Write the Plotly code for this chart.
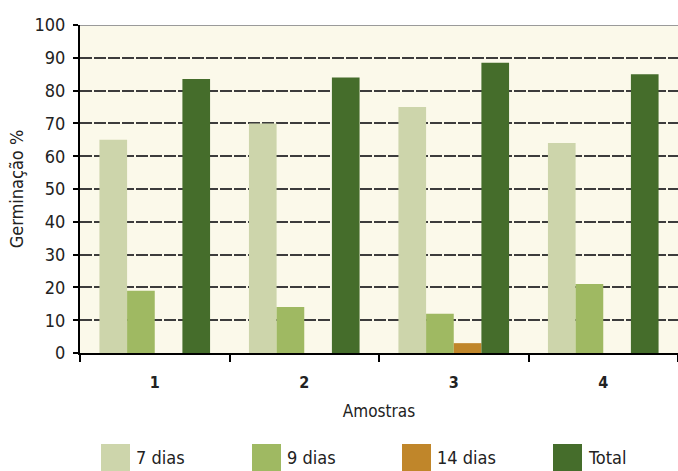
import plotly.graph_objects as go

# Germination percentages per sample and counting day
amostras = ["1", "2", "3", "4"]
series_names = ["7 dias", "9 dias", "14 dias", "Total"]
dias7 = [65, 70, 75, 64]
dias9 = [19, 14, 12, 21]
dias14 = [0, 0, 3, 0]
total = [83.5, 84, 88.5, 85]
y_ticks = [0, 10, 20, 30, 40, 50, 60, 70, 80, 90, 100]

colors = ["#cdd5ab", "#9fb962", "#c0862a", "#456d2b"]
FONT = "DejaVu Sans Condensed, DejaVu Sans, sans-serif"

W, H = 678, 471
L, R, T, B = 80, 0, 25, 118

fig = go.Figure()
for name, vals, col in zip(series_names, [dias7, dias9, dias14, total], colors):
    fig.add_trace(go.Bar(x=amostras, y=vals, name=name, marker_color=col,
                         marker_line_width=0, showlegend=False))

# Custom legend: large swatches with labels underneath the axis title
pw, ph = W - L - R, H - T - B
def px_to_paper(xp, yp):
    return (xp - L) / pw, (H - B - yp) / ph

legend_x = [101, 252, 402, 553]
for name, col, xs in zip(series_names, colors, legend_x):
    x0, y0 = px_to_paper(xs, 444)
    x1, y1 = px_to_paper(xs + 29, 474)
    fig.add_shape(type="rect", xref="paper", yref="paper", x0=x0, x1=x1, y0=y1, y1=y0,
                  fillcolor=col, line_width=0, layer="above")
    tx, ty = px_to_paper(xs + 33, 457)
    fig.add_annotation(xref="paper", yref="paper", x=tx, y=ty, text=name,
                       showarrow=False, xanchor="left", yanchor="middle",
                       font=dict(family=FONT, size=18, color="#222222"))

# Top border of the plotting area in light grey
fig.add_shape(type="line", xref="paper", yref="y", x0=0, x1=1, y0=100, y1=100,
              line=dict(color="#9a9a9a", width=2), layer="above")

fig.update_layout(
    width=W, height=H,
    margin=dict(l=L, r=R, t=T, b=B),
    paper_bgcolor="white",
    plot_bgcolor="#fbf9ea",
    barmode="group",
    bargap=0.26,
    bargroupgap=0,
    font=dict(family=FONT, size=17, color="#222222"),
)
fig.update_xaxes(
    type="category",
    showline=True, linecolor="black", linewidth=2,
    ticks="outside", tickson="boundaries", ticklen=7, tickwidth=2, tickcolor="black",
    tickfont=dict(family=FONT, size=16, color="#222222", weight="bold"),
    ticklabelstandoff=14,
    title=dict(text="Amostras", font=dict(family=FONT, size=17), standoff=14),
    showgrid=False,
    range=[-0.5, 3.5],
)
fig.update_yaxes(
    range=[0, 100], tickvals=y_ticks,
    showline=True, linecolor="black", linewidth=2,
    ticks="outside", ticklen=5, tickwidth=2, tickcolor="black",
    tickfont=dict(family=FONT, size=18, color="#222222"),
    ticklabelstandoff=4,
    showgrid=True, gridcolor="#3c3c3c", gridwidth=2, griddash="12px,2px",
    zeroline=False,
    title=dict(text="Germinação %", font=dict(family=FONT, size=18), standoff=6),
)

fig.write_html("out.html")
